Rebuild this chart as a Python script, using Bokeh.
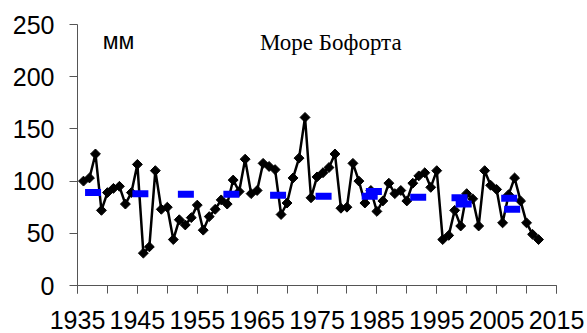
import numpy as np
from bokeh.plotting import figure
from bokeh.models import Range1d, FixedTicker, Label, ColumnDataSource
from bokeh.embed import file_html
from bokeh.resources import INLINE

# yearly series (mm)
years = list(range(1936, 2013))
values = [100, 103, 126, 72, 89, 93, 95, 78, 89, 116,
          31, 37, 110, 73, 75, 44, 63, 58, 65, 77,
          53, 66, 73, 82, 78, 101, 90, 121, 88, 91,
          117, 114, 111, 68, 79, 103, 122, 161, 84, 104,
          108, 113, 126, 74, 75, 117, 100, 79, 91, 71,
          81, 98, 88, 91, 81, 98, 105, 108, 94, 110,
          44, 48, 72, 57, 88, 83, 57, 110, 96, 92,
          60, 87, 103, 81, 60, 49, 44]

# blue mean markers
mean_x = [1937.6, 1945.5, 1953.1, 1960.7, 1968.5, 1976.1, 1983.8, 1984.5,
          1991.9, 1998.8, 1999.5, 2007.1, 2007.6]
mean_y = [89, 88, 87.4, 87.5, 86.5, 85.5, 85.4, 90, 84.5, 84, 78, 83.5, 73]

x_ticks = [1935, 1945, 1955, 1965, 1975, 1985, 1995, 2005, 2015]
x_minor = list(range(1935, 2016, 5))
y_ticks = [0, 50, 100, 150, 200, 250]

p = figure(width=587, height=333, output_backend="svg", toolbar_location=None,
           x_range=Range1d(1935, 2015), y_range=Range1d(0, 250),
           min_border_left=77, min_border_right=31, min_border_top=24, min_border_bottom=48)
p.outline_line_color = None
p.xgrid.visible = False
p.ygrid.visible = False
p.background_fill_color = "white"
p.border_fill_color = "white"

axc = "#555555"
p.xaxis.ticker = FixedTicker(ticks=x_ticks, minor_ticks=x_minor)
p.yaxis.ticker = FixedTicker(ticks=y_ticks)
for ax in (p.xaxis[0], p.yaxis[0]):
    ax.axis_line_color = axc
    ax.major_tick_line_color = axc
    ax.minor_tick_line_color = axc
    ax.major_tick_in = 0
    ax.major_tick_out = 8
    ax.minor_tick_in = 0
    ax.minor_tick_out = 8
    ax.major_label_text_font = "Liberation Sans"
    ax.major_label_text_font_size = "25px"
    ax.major_label_text_color = "black"
p.yaxis.minor_tick_out = 0
p.xaxis.major_label_standoff = 17
p.yaxis.major_label_standoff = 15

src = ColumnDataSource(dict(x=years, y=values))
p.line("x", "y", source=src, line_color="black", line_width=2.5)
p.scatter("x", "y", source=src, marker="square", angle=np.pi / 4, size=7,
          fill_color="black", line_color="black")

p.rect(mean_x, mean_y, width=16, height=7, width_units="screen", height_units="screen",
       fill_color="#0000FF", line_color=None)

p.add_layout(Label(x=1939.2, y=234, text="мм", text_font="Liberation Sans",
                   text_font_size="23px", text_color="black", text_baseline="alphabetic"))
p.add_layout(Label(x=1977.3, y=233, text="Море Бофорта", text_font="Liberation Serif",
                   text_font_size="23px", text_color="black", text_align="center",
                   text_baseline="alphabetic"))

open("out.html", "w").write(file_html(p, INLINE))
